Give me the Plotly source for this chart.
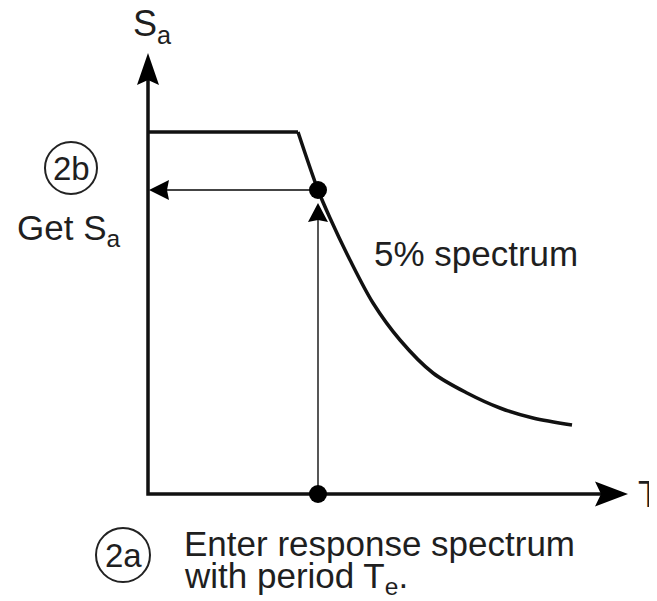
import plotly.graph_objects as go

# ---- data (T = period, Sa = spectral acceleration, arbitrary units) ----
T_plateau = [0.00, 1.50]
Sa_plateau = [3.62, 3.62]
T_decay = [1.50, 1.70, 1.82, 2.02, 2.25, 2.52, 2.85, 3.19, 3.52, 3.85, 4.24]
Sa_decay = [3.62, 3.04, 2.76, 2.34, 1.91, 1.54, 1.21, 1.01, 0.86, 0.76, 0.69]
T_e = 1.70
Sa_e = 3.04
T_axis_end = 4.80
Sa_axis_end = 4.41

FONT = "Liberation Sans, Arial, sans-serif"
TXT = "#1f1f1f"

fig = go.Figure()

# spectrum curve
fig.add_trace(go.Scatter(x=T_plateau, y=Sa_plateau, mode="lines",
                         line=dict(color="#111111", width=3.5),
                         hoverinfo="skip", showlegend=False))
fig.add_trace(go.Scatter(x=T_decay, y=Sa_decay, mode="lines",
                         line=dict(color="#111111", width=3.5, shape="spline", smoothing=0.9),
                         hoverinfo="skip", showlegend=False))

# axes
fig.add_trace(go.Scatter(x=[0, 0, T_axis_end - 0.25], y=[Sa_axis_end - 0.25, 0, 0], mode="lines",
                         line=dict(color="#111111", width=3.5), hoverinfo="skip", showlegend=False))

# thin guide lines
fig.add_trace(go.Scatter(x=[T_e, T_e], y=[0, Sa_e - 0.25], mode="lines",
                         line=dict(color="#444444", width=1.8), hoverinfo="skip", showlegend=False))
fig.add_trace(go.Scatter(x=[T_e, 0.15], y=[Sa_e, Sa_e], mode="lines",
                         line=dict(color="#444444", width=1.8), hoverinfo="skip", showlegend=False))

# dots
fig.add_trace(go.Scatter(x=[T_e, T_e], y=[Sa_e, 0], mode="markers",
                         marker=dict(color="#000000", size=18), hoverinfo="skip", showlegend=False))


def arrow_path(tx, ty, dx, dy, length, half, notch):
    # tip at (tx,ty), pointing in direction (dx,dy) (unit)
    px, py = -dy, dx
    bx, by = tx - dx * length, ty - dy * length
    nx, ny = tx - dx * (length - notch), ty - dy * (length - notch)
    pts = [(tx, ty), (bx + px * half, by + py * half), (nx, ny), (bx - px * half, by - py * half)]
    return "M " + " L ".join(f"{x:.4f},{y:.4f}" for x, y in pts) + " Z"


shapes = []
# axis arrowheads
shapes.append(dict(type="path", xref="x", yref="y",
                   path=arrow_path(0, Sa_axis_end, 0, 1, 0.32, 0.11, 0.05),
                   fillcolor="#000000", line=dict(width=0)))
shapes.append(dict(type="path", xref="x", yref="y",
                   path=arrow_path(T_axis_end, 0, 1, 0, 0.33, 0.125, 0.06),
                   fillcolor="#000000", line=dict(width=0)))
# guide arrowheads
shapes.append(dict(type="path", xref="x", yref="y",
                   path=arrow_path(0.01, Sa_e, -1, 0, 0.20, 0.10, 0.02),
                   fillcolor="#000000", line=dict(width=0)))
shapes.append(dict(type="path", xref="x", yref="y",
                   path=arrow_path(T_e, Sa_e - 0.13, 0, 1, 0.19, 0.10, 0.02),
                   fillcolor="#000000", line=dict(width=0)))
# step circles
shapes.append(dict(type="circle", xref="x", yref="y",
                   x0=-0.77 - 0.26, x1=-0.77 + 0.26, y0=3.26 - 0.26, y1=3.26 + 0.26,
                   line=dict(color="#222222", width=2)))
shapes.append(dict(type="circle", xref="x", yref="y",
                   x0=-0.25 - 0.27, x1=-0.25 + 0.27, y0=-0.61 - 0.27, y1=-0.61 + 0.27,
                   line=dict(color="#222222", width=2)))


def txt(x, y, s, size=35, xanchor="left"):
    return dict(x=x, y=y, xref="x", yref="y", text=s, showarrow=False,
                xanchor=xanchor, yanchor="middle",
                font=dict(family=FONT, size=size, color=TXT))


annotations = [
    txt(-0.17, 4.68, "S<sub>a</sub>", 36),
    txt(-0.77, 3.26, "2b", 33, "center"),
    txt(-1.33, 2.64, "Get S<sub>a</sub>", 35),
    txt(2.24, 2.41, "5% spectrum", 35),
    txt(-0.25, -0.61, "2a", 33, "center"),
    txt(0.34, -0.49, "Enter response spectrum", 35),
    txt(0.34, -0.84, "with period T<sub>e</sub>.", 35),
    txt(4.88, 0.0, "T", 36),
]

# the page body adds an 8 px offset, so the axis ranges are shifted to compensate
fig.update_layout(
    width=657, height=601, autosize=False,
    margin=dict(l=0, r=0, t=0, b=0),
    paper_bgcolor="white", plot_bgcolor="white",
    xaxis=dict(range=[-1.40, 5.17], visible=False, fixedrange=True),
    yaxis=dict(range=[-1.15, 4.86], visible=False, fixedrange=True),
    shapes=shapes, annotations=annotations, showlegend=False,
)

fig.write_html("out.html")
